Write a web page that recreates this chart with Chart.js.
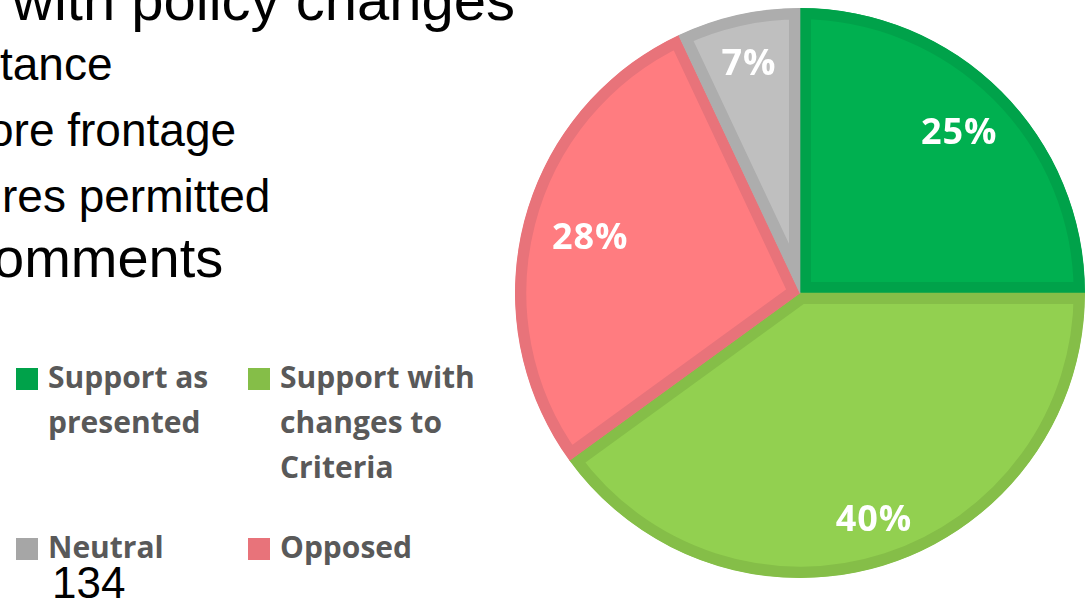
<!DOCTYPE html>
<html>
<head>
<meta charset="utf-8">
<script src="https://cdn.jsdelivr.net/npm/chart.js@4/dist/chart.umd.min.js"></script>
<style>
    html, body { margin: 0; padding: 0; background: #fff; }
    body { width: 1091px; height: 602px; position: relative; overflow: hidden; }
    .slide { position: absolute; font-family: "Liberation Sans", Arial, sans-serif; color: #000; line-height: 1; white-space: nowrap; }
    .legend-item { position: absolute; font-family: "Open Sans", sans-serif; font-weight: 700; font-size: 30px; line-height: 45px; color: #595959; }
    .legend-item .box { position: absolute; width: 22px; height: 22px; top: 14px; }
    .legend-item .txt { position: absolute; left: 32px; top: 0; }
    #chartwrap { position: absolute; left: 515px; top: 8px; width: 570px; height: 570px; }
</style>
</head>
<body>
<div class="slide" style="left:12px; top:-29px; font-size:58px;">with policy changes</div>
<div class="slide" style="left:0px; top:41px; font-size:46px;">tance</div>
<div class="slide" style="left:-12px; top:107px; font-size:46px;">ore frontage</div>
<div class="slide" style="left:2px; top:173px; font-size:46px;">res permitted</div>
<div class="slide" style="left:-7px; top:230px; font-size:56px;">omments</div>
<div id="legend"></div>
<div class="slide" style="left:52px; top:561px; font-size:44px;">134</div>
<div id="chartwrap"><canvas id="pie"></canvas></div>

<script>
// survey responses (percent)
const categories = ["Support as presented", "Support with changes to Criteria", "Opposed", "Neutral"];
const values = [25, 40, 28, 7];

const fillColors = ["#00B050", "#92D050", "#FF7C80", "#BFBFBF"];
const edgeColors = ["#00A24A", "#85BE48", "#E8737A", "#ADADAD"];
const legendColors = ["#00A24A", "#85BE48", "#E8737A", "#A6A6A6"];
// how far out each percent label sits, as a share of the radius
const labelReach = [0.79, 0.84, 0.76, 0.82];

// legend order in the picture: two columns, two rows
const legendOrder = [0, 1, 3, 2];
const legendSpots = [
    { left: 16, top: 354, width: 185 },
    { left: 248, top: 354, width: 210 },
    { left: 16, top: 524, width: 185 },
    { left: 248, top: 524, width: 210 }
];

const legendDiv = document.getElementById("legend");
legendOrder.forEach((idx, n) => {
    const spot = legendSpots[n];
    const item = document.createElement("div");
    item.className = "legend-item";
    item.style.left = spot.left + "px";
    item.style.top = spot.top + "px";
    const box = document.createElement("div");
    box.className = "box";
    box.style.background = legendColors[idx];
    const txt = document.createElement("div");
    txt.className = "txt";
    txt.style.width = spot.width + "px";
    txt.innerText = categories[idx];
    item.appendChild(box);
    item.appendChild(txt);
    legendDiv.appendChild(item);
});

const pctLabels = {
    id: "pctLabels",
    afterDatasetsDraw(chart) {
        const ctx = chart.ctx;
        const meta = chart.getDatasetMeta(0);
        ctx.save();
        ctx.font = 'bold 36px "Open Sans"';
        ctx.letterSpacing = "1px";
        ctx.fillStyle = "#ffffff";
        ctx.textAlign = "center";
        ctx.textBaseline = "middle";
        meta.data.forEach((arc, i) => {
            const p = arc.getProps(["x", "y", "startAngle", "endAngle", "outerRadius"]);
            const mid = (p.startAngle + p.endAngle) / 2;
            const r = p.outerRadius * labelReach[i];
            ctx.fillText(values[i] + "%", p.x + Math.cos(mid) * r, p.y + Math.sin(mid) * r);
        });
        ctx.restore();
    }
};

new Chart(document.getElementById("pie"), {
    type: "pie",
    data: {
        labels: categories,
        datasets: [{
            data: values,
            backgroundColor: fillColors,
            borderColor: edgeColors,
            borderWidth: 11,
            borderAlign: "inner",
            hoverOffset: 0
        }]
    },
    options: {
        responsive: true,
        maintainAspectRatio: false,
        animation: false,
        layout: { padding: 0 },
        plugins: {
            legend: { display: false },
            tooltip: { enabled: false }
        }
    },
    plugins: [pctLabels]
});
</script>
</body>
</html>
